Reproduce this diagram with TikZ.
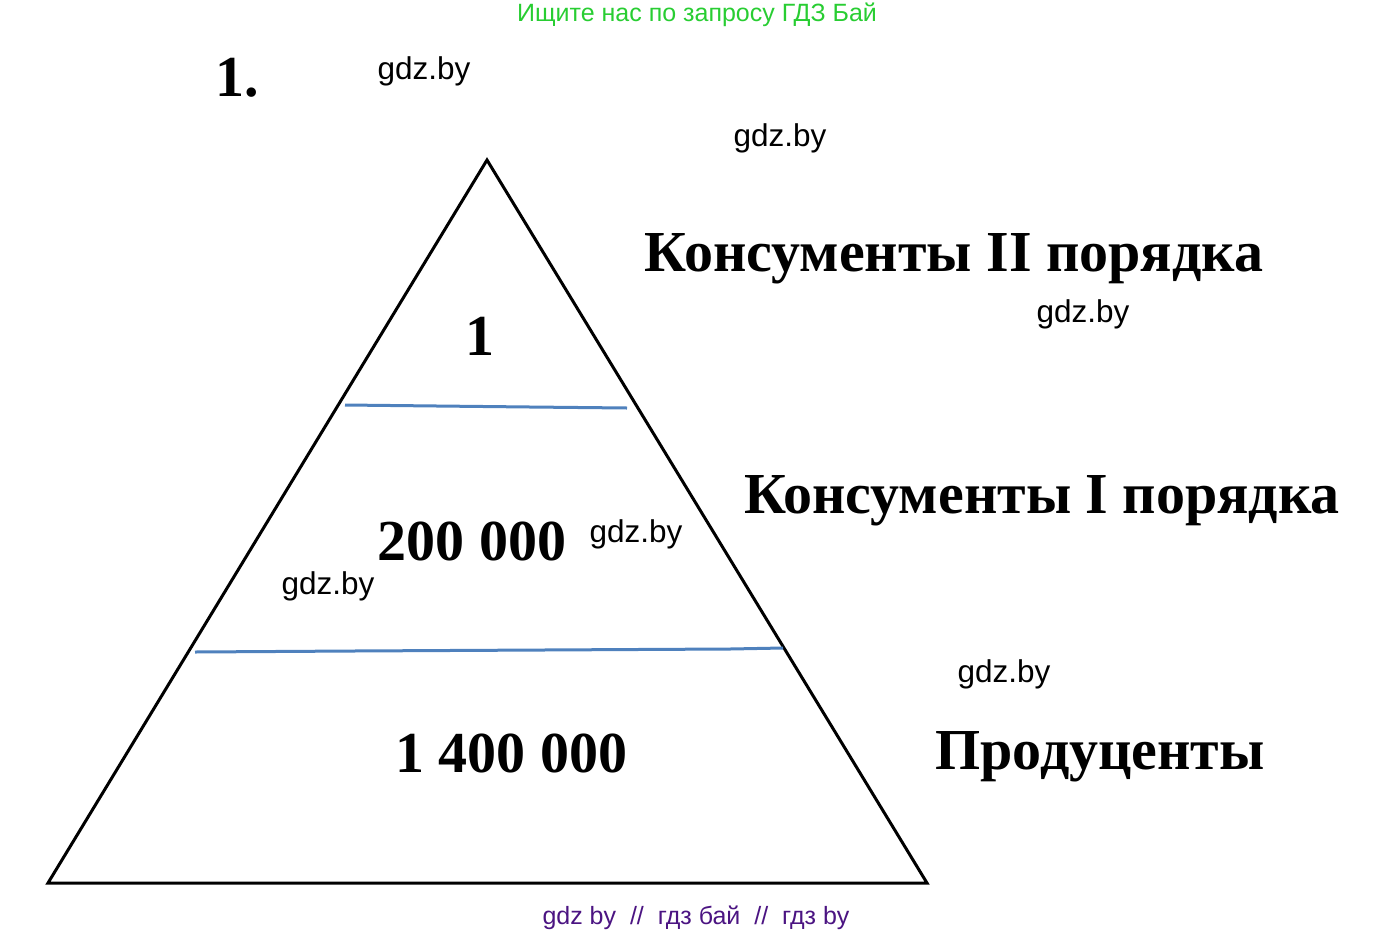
\documentclass[tikz,border=0pt]{standalone}
\usepackage{fontspec}
\setmainfont{Liberation Serif}
\setsansfont{Liberation Sans}
\definecolor{layerblue}{RGB}{79,129,189}
\definecolor{adgreen}{RGB}{40,205,50}
\definecolor{adpurple}{RGB}{75,20,130}
\tikzset{
	big/.style={font=\bfseries\fontsize{58}{62}\selectfont},
	wmark/.style={font=\sffamily\fontsize{31.5}{34}\selectfont},
	layer/.style={layerblue, line width=3pt}
}

\begin{document}
\begin{tikzpicture}[x=1pt,y=-1pt]
	\useasboundingbox (0,0) rectangle (1395,935);
	% pyramid
	\coordinate (top) at (487,160);
	\coordinate (left) at (48,883);
	\coordinate (right) at (927,883);
	\draw[line width=3pt, line join=miter] (top) -- (right) -- (left) -- cycle;
	\draw[layer] (345,405) -- (437,406) -- (530,407) -- (627,408);
	\draw[layer] (195,652) -- (353,651) -- (543,650) -- (730,649) -- (783,648);

	\node[big] (num) at (237,78) {1.};
	\node[big] (n1) at (480,336) {1};
	\node[big] (n2) at (472,541) {200 000};
	\node[big] (n3) at (511,753) {1 400 000};

	\node[big] (cons2) at (954,259) {Консументы II порядка};
	\node[big] (cons1) at (1042,501) {Консументы I порядка};
	\node[big] (prod) at (1100,757) {Продуценты};

	% watermarks
	\node[wmark] (w1) at (424,71) {gdz.by};
	\node[wmark] (w2) at (780,138) {gdz.by};
	\node[wmark] (w3) at (1083,314) {gdz.by};
	\node[wmark] (w4) at (636,534) {gdz.by};
	\node[wmark] (w5) at (328,586) {gdz.by};
	\node[wmark] (w6) at (1004,674) {gdz.by};
	\node[adgreen, font=\sffamily\fontsize{25}{28}\selectfont] (head) at (697,15) {Ищите нас по запросу ГДЗ Бай};
	\node[adpurple, font=\sffamily\fontsize{25}{28}\selectfont] (foot) at (696,918) {gdz by\ \ //\ \ гдз бай\ \ //\ \ гдз by};
\end{tikzpicture}
\end{document}
